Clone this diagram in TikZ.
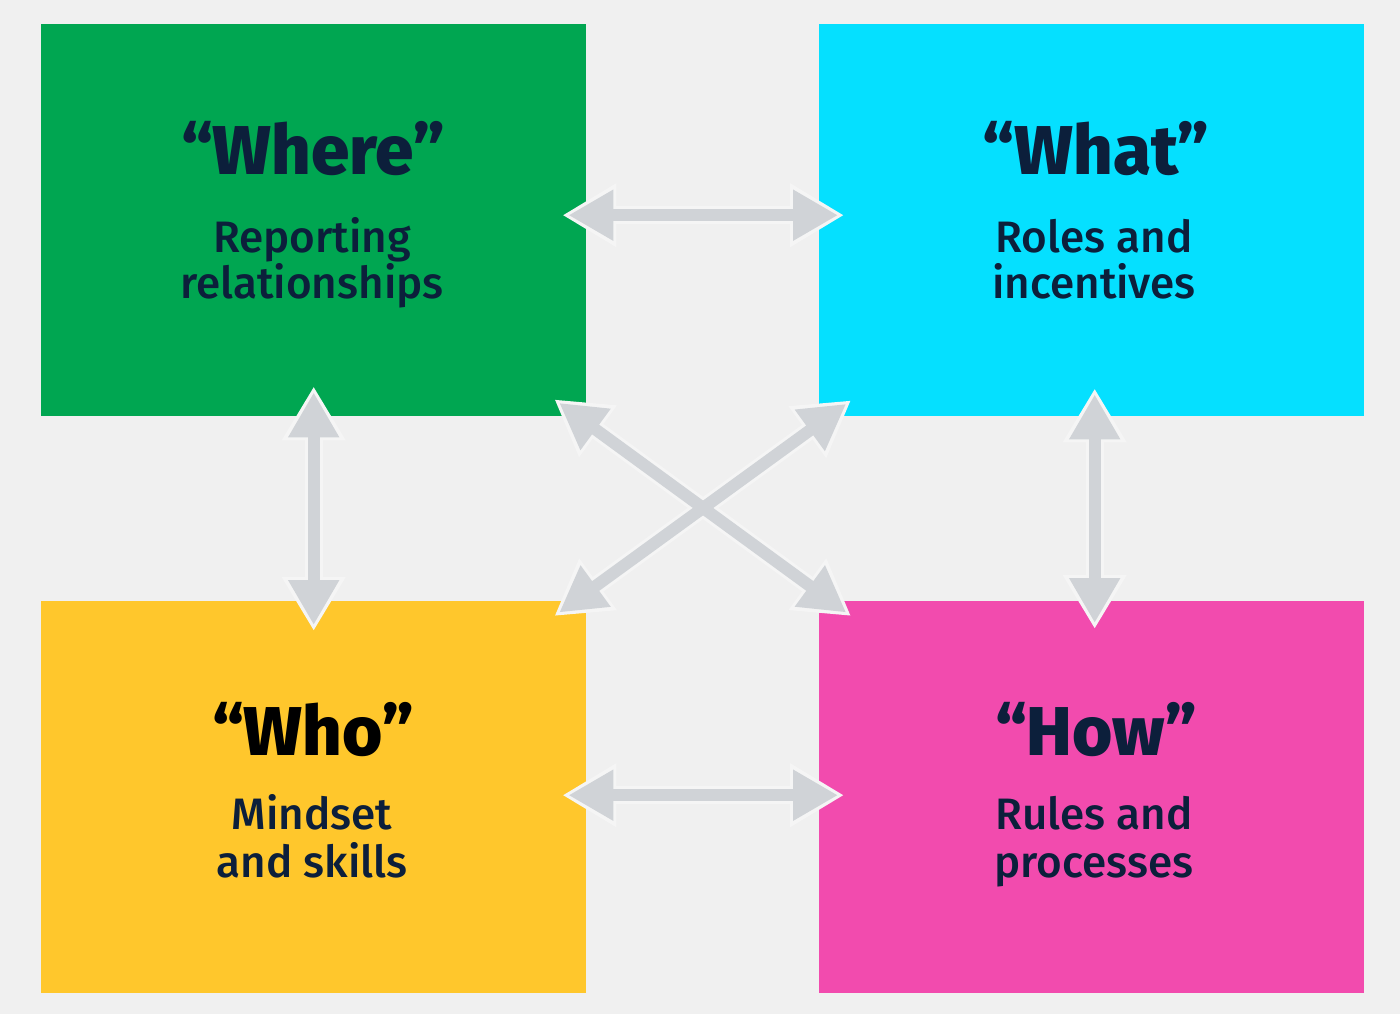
\documentclass[tikz,border=0pt]{standalone}
\usepackage{fontspec}
\setmainfont{Fira Sans}
\newfontfamily\medfont{Fira Sans Medium}
\newfontfamily\heavyfont{Fira Sans ExtraBold}
\usetikzlibrary{arrows.meta,calc}
\definecolor{bgc}{HTML}{F0F0F0}
\definecolor{cgreen}{HTML}{00A651}
\definecolor{ccyan}{HTML}{05E0FF}
\definecolor{cyellow}{HTML}{FFC72C}
\definecolor{cpink}{HTML}{F24BAE}
\definecolor{ink}{HTML}{0C1F3B}
\definecolor{agray}{HTML}{D0D3D7}
\definecolor{aedge}{HTML}{F5F5F5}
\tikzset{
  box/.style={rectangle, draw=none, minimum width=545pt, minimum height=392pt, inner sep=0pt, anchor=north west},
  ttl/.style={anchor=base, text=ink, font=\heavyfont\fontsize{69}{74}\selectfont, inner sep=0pt},
  sub/.style={anchor=base, text=ink, font=\medfont\fontsize{44}{48}\selectfont, inner sep=0pt},
  outl/.style={line width=18pt, draw=aedge, {Triangle[length=54pt,width=60pt]}-{Triangle[length=54pt,width=60pt]}},
  core/.style={line width=12pt, draw=agray, shorten <=6pt, shorten >=6pt, {Triangle[length=45pt,width=48pt]}-{Triangle[length=45pt,width=48pt]}}
}
\begin{document}
\begin{tikzpicture}[x=1pt,y=-1pt]
\fill[bgc] (0,0) rectangle (1400,1014);
\useasboundingbox (0,0) rectangle (1400,1014);
\node[box, fill=cgreen] (where) at (41,24) {};
\node[box, fill=ccyan] (what) at (819,24) {};
\node[box, fill=cyellow] (who) at (41,601) {};
\node[box, fill=cpink] (how) at (819,601) {};
% texts
\node[ttl] (t1) at (313,175) {“Where”};
\node[sub] (s1a) at (312,252) {Reporting};
\node[sub] (s1b) at (312,298) {relationships};
\node[ttl] (t2) at (1096,175) {“What”};
\node[sub] (s2a) at (1094,252) {Roles and};
\node[sub] (s2b) at (1094,298) {incentives};
\node[ttl, text=black] (t3) at (313,755) {“Who”};
\node[sub] (s3a) at (312,829) {Mindset};
\node[sub] (s3b) at (312,877) {and skills};
\node[ttl] (t4) at (1096,755) {“How”};
\node[sub] (s4a) at (1094,829) {Rules and};
\node[sub] (s4b) at (1094,877) {processes};
% arrows
\coordinate (a1) at ($(where.east)+(-24,-5)$);
\coordinate (b1) at ($(what.west)+(25,-5)$);
\coordinate (a2) at ($(who.east)+(-24,-2)$);
\coordinate (b2) at ($(how.west)+(25,-2)$);
\coordinate (a3) at ($(where.south)+(0,-30)$);
\coordinate (b3) at ($(who.north)+(0,30)$);
\coordinate (a4) at ($(what.south)+(3,-28)$);
\coordinate (b4) at ($(how.north)+(3,28)$);
\coordinate (a5) at ($(where.south east)+(-32,-17)$);
\coordinate (b5) at ($(how.north west)+(32,15)$);
\coordinate (a6) at ($(what.south west)+(32,-16)$);
\coordinate (b6) at ($(who.north east)+(-32,15)$);
\foreach \p/\q in {a1/b1,a2/b2,a3/b3,a4/b4,a5/b5,a6/b6}{
  \draw[outl] (\p) -- (\q);
}
\foreach \p/\q in {a1/b1,a2/b2,a3/b3,a4/b4,a5/b5,a6/b6}{
  \draw[core] (\p) -- (\q);
}
\end{tikzpicture}
\end{document}
